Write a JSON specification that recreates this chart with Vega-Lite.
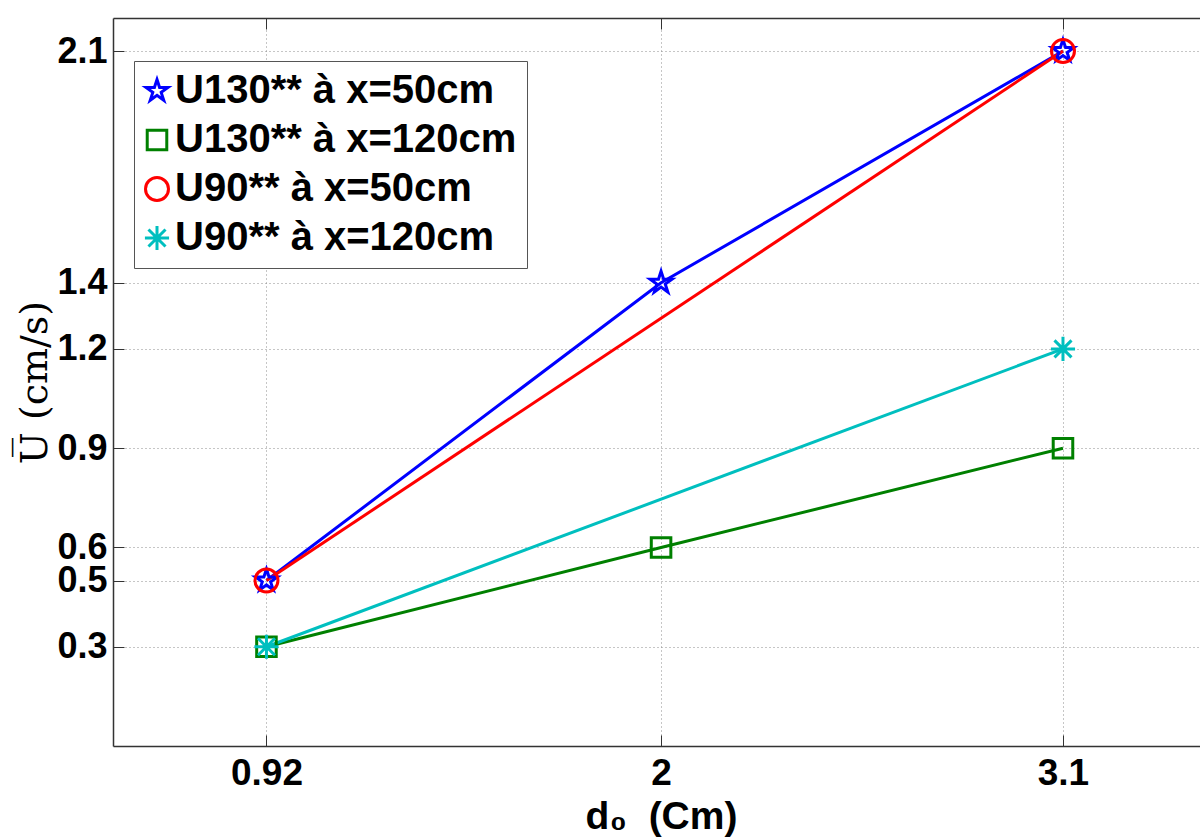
{
  "$schema": "https://vega.github.io/schema/vega-lite/v6.json",
  "width": 1087,
  "height": 728,
  "autosize": {"type": "none"},
  "padding": {"left": 113, "top": 18, "right": 0, "bottom": 91},
  "background": "white",
  "config": {"view": {"stroke": null}, "font": "Liberation Sans"},
  "data": {
    "values": [
      {"d": 0.92, "U": 0.5, "s": "U130** à x=50cm"},
      {"d": 2, "U": 1.4, "s": "U130** à x=50cm"},
      {"d": 3.1, "U": 2.1, "s": "U130** à x=50cm"},
      {"d": 0.92, "U": 0.3, "s": "U130** à x=120cm"},
      {"d": 2, "U": 0.6, "s": "U130** à x=120cm"},
      {"d": 3.1, "U": 0.9, "s": "U130** à x=120cm"},
      {"d": 0.92, "U": 0.5, "s": "U90** à x=50cm"},
      {"d": 3.1, "U": 2.1, "s": "U90** à x=50cm"},
      {"d": 0.92, "U": 0.3, "s": "U90** à x=120cm"},
      {"d": 3.1, "U": 1.2, "s": "U90** à x=120cm"}
    ]
  },
  "encoding": {
    "color": {
      "field": "s",
      "type": "nominal",
      "sort": null,
      "scale": {
        "domain": ["U130** à x=50cm", "U130** à x=120cm", "U90** à x=50cm", "U90** à x=120cm"],
        "range": ["#0000ff", "#008000", "#ff0000", "#00bfbf"]
      },
      "legend": {
        "orient": "none",
        "legendX": 21,
        "legendY": 43,
        "title": null,
        "fillColor": "white",
        "strokeColor": "#555555",
        "padding": 10,
        "rowPadding": 9,
        "labelOffset": -2,
        "symbolOffset": -7,
        "labelFont": "Liberation Sans",
        "labelFontSize": 40,
        "labelFontWeight": "bold",
        "labelColor": "black",
        "labelLimit": 0,
        "symbolSize": 529,
        "symbolStrokeWidth": 3,
        "symbolOpacity": 1,
        "symbolFillColor": "transparent"
      }
    }
  },
  "layer": [
    {
      "mark": {"type": "line", "strokeWidth": 3},
      "encoding": {
        "x": {
          "field": "d",
          "type": "quantitative",
          "scale": {"domain": [0.5, 3.475], "nice": false, "zero": false},
          "axis": {
            "orient": "bottom",
            "values": [0.92, 2, 3.1],
            "labelExpr": "datum.value",
            "grid": true,
            "gridColor": "#8c8c8c",
            "gridDash": [1, 3],
            "gridWidth": 1,
            "domain": true,
            "domainColor": "#333333",
            "domainWidth": 1.5,
            "ticks": true,
            "tickSize": -11,
            "tickColor": "#333333",
            "tickWidth": 1,
            "labelFont": "Liberation Sans",
            "labelFontSize": 37,
            "labelFontWeight": "bold",
            "labelColor": "black",
            "labelPadding": 20,
            "labelBaseline": "top",
            "labelFlush": false,
            "labelOverlap": false,
            "title": "d₀ \u00a0(Cm)",
            "titleFont": "Liberation Sans",
            "titleFontSize": 39,
            "titleFontWeight": "bold",
            "titleColor": "black",
            "titleX": 548,
            "titleY": 82,
            "titleAlign": "center",
            "titleBaseline": "alphabetic"
          }
        },
        "y": {
          "field": "U",
          "type": "quantitative",
          "scale": {"domain": [0, 2.2], "nice": false, "zero": false},
          "axis": {
            "orient": "left",
            "values": [0.3, 0.5, 0.6, 0.9, 1.2, 1.4, 2.1],
            "labelExpr": "datum.value",
            "grid": true,
            "gridColor": "#8c8c8c",
            "gridDash": [1, 3],
            "gridWidth": 1,
            "domain": true,
            "domainColor": "#333333",
            "domainWidth": 1.5,
            "ticks": true,
            "tickSize": -11,
            "tickColor": "#333333",
            "tickWidth": 1,
            "labelFont": "Liberation Sans",
            "labelFontSize": 36,
            "labelFontWeight": "bold",
            "labelColor": "black",
            "labelPadding": 17,
            "labelAlign": "right",
            "labelBaseline": "middle",
            "labelFlush": false,
            "labelOverlap": false,
            "title": "U̅ (cm/s)",
            "titleFont": "DejaVu Serif",
            "titleFontSize": 38,
            "titleFontWeight": "normal",
            "titleColor": "black",
            "titleAngle": -90,
            "titleX": -78,
            "titleY": 364,
            "titleAlign": "center",
            "titleBaseline": "middle"
          }
        }
      }
    },
    {
      "mark": {"type": "point", "filled": false, "strokeWidth": 3, "size": 529, "opacity": 1},
      "encoding": {
        "x": {
          "field": "d",
          "type": "quantitative",
          "scale": {"domain": [0.5, 3.475], "nice": false, "zero": false},
          "axis": {
            "orient": "top",
            "values": [0.92, 2, 3.1],
            "labels": false,
            "grid": false,
            "domain": true,
            "domainColor": "#333333",
            "domainWidth": 1.5,
            "ticks": true,
            "tickSize": -11,
            "tickColor": "#333333",
            "tickWidth": 1,
            "title": null
          }
        },
        "y": {"field": "U", "type": "quantitative"},
        "shape": {
          "field": "s",
          "type": "nominal",
          "sort": null,
          "scale": {
            "domain": ["U130** à x=50cm", "U130** à x=120cm", "U90** à x=50cm", "U90** à x=120cm"],
            "range": [
              "M0,-1L0.2245,-0.309L0.951,-0.309L0.363,0.118L0.588,0.809L0,0.382L-0.588,0.809L-0.363,0.118L-0.951,-0.309L-0.2245,-0.309Z",
              "M-0.85,-0.85L0.85,-0.85L0.85,0.85L-0.85,0.85Z",
              "circle",
              "M-1.05,0L1.05,0M0,-1.05L0,1.05M-0.74,-0.74L0.74,0.74M-0.74,0.74L0.74,-0.74"
            ]
          },
          "legend": null
        }
      }
    }
  ],
  "resolve": {"axis": {"x": "independent"}}
}
